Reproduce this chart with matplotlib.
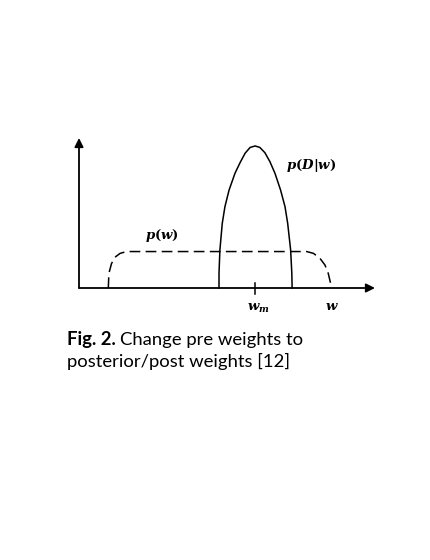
import matplotlib
matplotlib.use("Agg")
import matplotlib.pyplot as plt

# solid curve p(D|w)
post_w = [4.73, 4.73, 4.76, 4.84, 4.93, 5.07, 5.27, 5.44, 5.61, 5.78, 5.95,
          6.11, 6.28, 6.45, 6.62, 6.81, 6.96, 7.05, 7.15, 7.19, 7.20]
post_p = [0.0, 0.098, 0.253, 0.431, 0.542, 0.653, 0.765, 0.835, 0.898, 0.937, 0.947,
          0.937, 0.902, 0.842, 0.765, 0.653, 0.542, 0.431, 0.253, 0.098, 0.0]

# dashed curve p(w)
prior_w = [0.99, 1.01, 1.10, 1.24, 1.39, 1.61, 7.69, 7.92, 8.14, 8.31, 8.42, 8.50, 8.50]
prior_p = [0.0, 0.098, 0.164, 0.209, 0.231, 0.243, 0.243, 0.231, 0.198, 0.153, 0.098, 0.031, 0.0]

w_m = 5.95
x_max = 10.0
y_max = 1.0

caption_bold = 'Fig. 2.'
caption_1 = 'Change pre weights to'
caption_2 = 'posterior/post weights [12]'

plt.rcParams['mathtext.fontset'] = 'custom'
plt.rcParams['mathtext.it'] = 'DejaVu Serif:italic:bold'
plt.rcParams['mathtext.rm'] = 'DejaVu Serif:bold'

fig = plt.figure(figsize=(4.3, 5.6), dpi=100)
ax = fig.add_axes([0, 0, 1, 1])
# 29.6 px per w unit, 150 px per p unit, origin at pixel (79, 288)
ax.set_xlim(-79 / 29.6, 351 / 29.6)
ax.set_ylim(-272 / 150, 288 / 150)
ax.axis('off')

arrow = dict(arrowstyle='-|>', lw=1.3, color='black', mutation_scale=13, shrinkA=0, shrinkB=0)
ax.annotate('', xy=(x_max, 0), xytext=(0, 0), arrowprops=arrow)
ax.annotate('', xy=(0, y_max), xytext=(0, 0), arrowprops=arrow)

ax.plot(post_w, post_p, color='black', lw=1.1, solid_joinstyle='round')
ax.plot(prior_w, prior_p, color='black', lw=1.1, dashes=(7, 3.5))
ax.plot([w_m, w_m], [-0.04, 0.035], color='black', lw=1.1)

ax.text(7.0, 0.82, r'$p(D|w)$', fontsize=9.5, ha='left', va='center')
ax.text(2.79, 0.353, r'$p(w)$', fontsize=9.5, ha='center', va='center')
ax.text(6.05, -0.135, r'$w_m$', fontsize=9.5, ha='center', va='center')
ax.text(8.54, -0.12, r'$w$', fontsize=9.5, ha='center', va='center')

# caption: bold label, then regular text right after it
t = fig.text(67 / 430, 1 - 345 / 560, caption_bold, fontsize=13.3, family='Lato',
             fontweight='bold', ha='left', va='baseline')
ax.annotate(caption_1, xy=(1, 0), xycoords=t, xytext=(4, 0), textcoords='offset pixels',
            fontsize=13.3, family='Lato', ha='left', va='bottom')
fig.text(67 / 430, 1 - 367 / 560, caption_2, fontsize=13.3, family='Lato',
         ha='left', va='baseline')

fig.savefig('out.png', dpi=100, facecolor='white')
